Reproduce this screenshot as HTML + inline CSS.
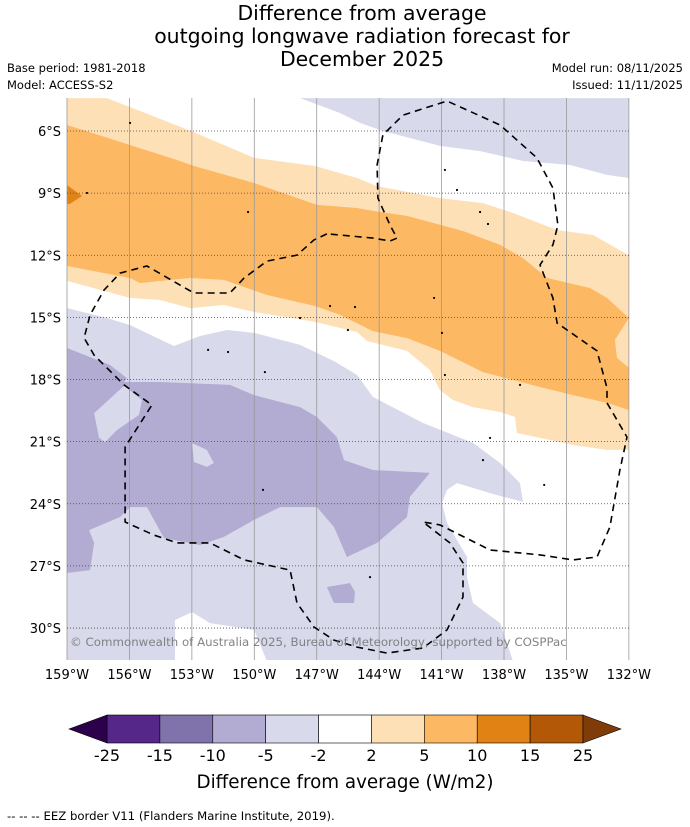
<!DOCTYPE html>
<html><head><meta charset="utf-8"><style>
body{margin:0;background:#fff;width:690px;height:827px;overflow:hidden;font-family:"DejaVu Sans",sans-serif}
svg{position:absolute;left:0;top:0}
</style></head><body>
<svg id="s" width="690" height="827" xmlns="http://www.w3.org/2000/svg">
<defs><clipPath id="mapclip"><rect x="67" y="98" width="562" height="562"/></clipPath></defs>
<g font-family="DejaVu Sans, sans-serif" fill="#000">
<text x="362" y="20" font-size="20.4" text-anchor="middle">Difference from average</text>
<text x="362" y="43" font-size="20.4" text-anchor="middle">outgoing longwave radiation forecast for</text>
<text x="362" y="66" font-size="20.4" text-anchor="middle">December 2025</text>
<text x="7" y="72" font-size="11.5">Base period: 1981-2018</text>
<text x="7" y="89" font-size="11.5">Model: ACCESS-S2</text>
<text x="683" y="72" font-size="11.5" text-anchor="end">Model run: 08/11/2025</text>
<text x="683" y="89" font-size="11.5" text-anchor="end">Issued: 11/11/2025</text>
</g>
<g id="map" clip-path="url(#mapclip)"></g>
<g id="grid"></g>
<g id="over" clip-path="url(#mapclip)"></g>
<text x="70" y="646" font-size="11.8" fill="#777" fill-opacity="0.9" font-family="DejaVu Sans, sans-serif">© Commonwealth of Australia 2025, Bureau of Meteorology, supported by COSPPac</text>
<g id="axes" font-family="DejaVu Sans, sans-serif" font-size="13"></g>
<g id="cbar" font-family="DejaVu Sans, sans-serif"></g>
<text x="345" y="788" font-size="18.3" text-anchor="middle" font-family="DejaVu Sans, sans-serif">Difference from average (W/m2)</text>
<text x="7" y="820" font-size="11.7" font-family="DejaVu Sans, sans-serif">--  --  -- EEZ border V11 (Flanders Marine Institute, 2019).</text>
</svg>
<script>
// Axis data
const latTicks=[6,9,12,15,18,21,24,27,30];
const lonTicks=[159,156,153,150,147,144,141,138,135,132];
// Colorbar data
const cbLevels=[-25,-15,-10,-5,-2,2,5,10,15,25];
const cbColors=["#542788","#8073ac","#b2abd2","#d8daeb","#ffffff","#fee0b6","#fdb863","#e08214","#b35806"];
// Contour polygons [lonW, latS]
const lightOrange=[[159,4.41],[157.08,4.41],[153.04,6.0],[150.01,7.3],[147.08,7.69],[145.06,8.27],[144.1,8.66],[141.08,9.24],[139.01,9.48],[137.57,9.96],[135.45,10.78],[133.72,11.02],[132,12.0],[132,21.4],[133.05,21.4],[134.68,21.16],[136.27,20.82],[137.38,20.58],[137.47,19.81],[138.19,19.57],[139.49,19.33],[140.45,18.99],[141.08,18.51],[141.56,17.54],[142.66,16.62],[144.58,16.14],[145.06,15.71],[147.08,15.22],[150.01,14.74],[151.46,14.4],[153.09,14.55],[154.53,14.16],[155.97,14.06],[159,13.24]];
const orange=[[159,5.71],[155.97,6.68],[153.71,7.4],[152.9,7.69],[150.01,8.51],[146.99,9.57],[145.06,9.72],[144.3,9.86],[142.66,10.1],[139.97,10.83],[138.19,11.5],[137.09,12.13],[135.93,13.1],[133.87,13.58],[133.05,14.06],[132,15.03],[132.67,16.09],[132.57,16.96],[132,17.44],[132,19.47],[133.05,19.13],[134.68,18.75],[136.27,18.36],[139.01,17.64],[141.08,16.62],[142.66,16.0],[144.3,15.66],[145.88,14.88],[147.08,14.45],[149.39,13.92],[151.46,13.19],[153.09,13.1],[155.49,13.34],[155.97,13.1],[159,12.52]];
const darkOrange=[[159,8.61],[158.28,9.14],[158.86,9.52],[159,9.52]];
const lpTop=[[147.8,4.41],[145.88,5.13],[144.92,5.61],[143.82,6.0],[141.08,6.72],[139.15,6.97],[137.09,7.45],[134.83,7.64],[133.05,8.12],[132,8.27],[132,4.41]];
const lpBig=[[159,14.55],[157.08,15.03],[155.97,15.37],[153.86,16.38],[152.61,15.9],[151.31,15.61],[150.01,15.75],[147.8,16.33],[146.17,17.11],[145.06,17.78],[144.3,18.84],[141.89,20.1],[139.49,21.06],[138.19,22.03],[137.23,23.0],[137.09,23.91],[138.34,23.58],[140.26,23.0],[140.74,23.33],[140.98,23.96],[140.74,24.93],[139.78,26.57],[139.78,27.54],[139.49,28.79],[138.19,29.76],[137.57,31.6],[149.39,31.6],[150.01,30.09],[152.13,29.76],[152.99,29.23],[153.81,29.61],[153.81,31.6],[159,31.6]];
const midPurple=[[159,16.48],[156.93,17.3],[156.12,17.93],[156.26,18.12],[154.53,18.12],[153.38,18.17],[151.17,18.26],[150.01,18.75],[147.8,19.33],[146.99,19.81],[146.03,20.78],[145.69,21.89],[144.3,22.37],[141.56,22.51],[142.52,23.67],[142.66,24.64],[144.1,25.89],[145.55,26.57],[146.17,25.12],[146.99,24.16],[148.76,24.16],[150.01,24.78],[151.46,25.6],[152.61,25.99],[154.34,25.65],[154.82,24.78],[155.16,24.16],[155.97,24.16],[156.45,24.64],[157.94,25.27],[157.7,25.89],[157.89,27.2],[159,27.34]];
const lpHole1=[[157.46,20.82],[157.7,19.62],[156.26,18.31],[155.4,18.99],[155.54,19.71],[156.6,20.44],[157.17,21.02]];
const lpHole2=[[152.99,21.07],[152.28,21.4],[151.94,22.03],[152.28,22.22],[152.9,21.98]];
const mpBlob=[[146.51,28.02],[145.4,27.83],[145.16,28.26],[145.21,28.79],[146.17,28.79]];
const eezBorder=[[146.51,10.97],[147.13,11.26],[147.95,11.99],[149.39,12.28],[150.49,13.1],[151.17,13.82],[152.9,13.82],[155.16,12.52],[156.45,12.86],[157.22,13.68],[157.89,14.88],[158.18,15.99],[157.7,16.82],[156.26,18.26],[154.92,19.23],[156.21,21.26],[156.21,24.88],[154.82,25.51],[153.71,25.89],[152.13,25.89],[150.49,26.71],[148.28,27.2],[147.95,28.79],[147.13,29.95],[146.17,30.58],[145.06,30.92],[143.62,31.21],[141.89,30.96],[140.74,30.09],[139.97,28.5],[139.97,26.86],[140.6,25.89],[141.89,24.88],[141.08,25.02],[138.67,26.23],[136.27,26.47],[134.68,26.71],[133.53,26.57],[132.91,25.12],[132.43,22.37],[132.09,20.78],[133.05,19.13],[133.05,18.41],[133.53,16.62],[135.45,15.27],[135.65,14.06],[136.27,12.47],[135.65,11.5],[135.41,10.54],[135.65,8.75],[136.42,7.3],[138.19,5.71],[140.74,4.55],[142.85,5.23],[143.82,6.19],[144.1,7.64],[144.06,9.24],[143.48,10.54],[143.14,11.17],[143.48,11.31],[144.3,11.17],[145.88,11.02],[146.51,10.97]];
const islands=[[155.97,5.61],[158.04,8.99],[150.3,9.91],[140.84,7.88],[140.26,8.85],[139.15,9.91],[138.77,10.49],[141.36,14.06],[140.98,15.75],[146.36,14.45],[145.16,14.5],[147.8,15.03],[145.5,15.61],[152.22,16.57],[151.26,16.67],[149.49,17.64],[140.84,17.78],[138.67,20.82],[139.01,21.89],[136.07,23.09],[149.58,23.33],[144.44,27.54],[137.23,18.26]];

const NS='http://www.w3.org/2000/svg';
const X=lon=>67+(159-lon)*20.81;
const Y=lat=>131+(lat-6)*20.71;
function mk(tag,parent){const e=document.createElementNS(NS,tag);parent.appendChild(e);return e;}
const map=document.getElementById('map'),grid=document.getElementById('grid'),over=document.getElementById('over'),axes=document.getElementById('axes'),cbar=document.getElementById('cbar');
const pts=a=>a.map(p=>X(p[0]).toFixed(1)+','+Y(p[1]).toFixed(1)).join(' ');
function poly(arr,fill,name){const p=mk('polygon',map);p.setAttribute('points',pts(arr));p.setAttribute('fill',fill);

}
const bg=mk('rect',map);bg.setAttribute('x',67);bg.setAttribute('y',98);bg.setAttribute('width',562);bg.setAttribute('height',562);bg.setAttribute('fill','#fff');


poly(lpTop,'#d8daeb','anomaly-minus2-to-minus5-north');
poly(lpBig,'#d8daeb','anomaly-minus2-to-minus5-south');
poly(midPurple,'#b2abd2','anomaly-minus5-to-minus10');
poly(lpHole1,'#d8daeb','anomaly-minus2-to-minus5-pocket-1');
poly(lpHole2,'#d8daeb','anomaly-minus2-to-minus5-pocket-2');
poly(mpBlob,'#b2abd2','anomaly-minus5-to-minus10-blob');
poly(lightOrange,'#fee0b6','anomaly-2-to-5');
poly(orange,'#fdb863','anomaly-5-to-10');
poly(darkOrange,'#e08214','anomaly-10-to-15');
lonTicks.forEach(l=>{const ln=mk('line',grid);ln.setAttribute('x1',X(l));ln.setAttribute('x2',X(l));ln.setAttribute('y1',98);ln.setAttribute('y2',660);ln.setAttribute('stroke','#999');ln.setAttribute('stroke-width','0.8');


const t=mk('text',axes);t.setAttribute('x',X(l));t.setAttribute('y',679);t.setAttribute('text-anchor','middle');t.textContent=l+'°W';

});
latTicks.forEach(l=>{const ln=mk('line',grid);ln.setAttribute('x1',67);ln.setAttribute('x2',629);ln.setAttribute('y1',Y(l));ln.setAttribute('y2',Y(l));ln.setAttribute('stroke','#444');ln.setAttribute('stroke-width','0.8');ln.setAttribute('stroke-dasharray','1,2');


const t=mk('text',axes);t.setAttribute('x',61);t.setAttribute('y',Y(l)+5);t.setAttribute('text-anchor','end');t.textContent=l+'°S';

});
const eez=mk('polyline',over);eez.setAttribute('points',pts(eezBorder));eez.setAttribute('fill','none');eez.setAttribute('stroke','#000');eez.setAttribute('stroke-width','1.6');eez.setAttribute('stroke-dasharray','7,5');


islands.forEach(p=>{const c=mk('circle',over);c.setAttribute('cx',X(p[0]));c.setAttribute('cy',Y(p[1]));c.setAttribute('r','1.1');c.setAttribute('fill','#000');

});
const cx0=107,cx1=583,cy=715,ch=28,n=cbColors.length,w=(cx1-cx0)/n;
cbColors.forEach((c,i)=>{const r=mk('rect',cbar);r.setAttribute('x',cx0+i*w);r.setAttribute('y',cy);r.setAttribute('width',w);r.setAttribute('height',ch);r.setAttribute('fill',c);r.setAttribute('stroke','#000');r.setAttribute('stroke-width','0.6');

});
const tl=mk('polygon',cbar);tl.setAttribute('points',`69,${cy+ch/2} ${cx0},${cy} ${cx0},${cy+ch}`);tl.setAttribute('fill','#2d004b');tl.setAttribute('stroke','#000');tl.setAttribute('stroke-width','0.6');


const tr=mk('polygon',cbar);tr.setAttribute('points',`621,${cy+ch/2} ${cx1},${cy} ${cx1},${cy+ch}`);tr.setAttribute('fill','#7f3b08');tr.setAttribute('stroke','#000');tr.setAttribute('stroke-width','0.6');


cbLevels.forEach((v,i)=>{const t=mk('text',cbar);t.setAttribute('x',cx0+i*w);t.setAttribute('y',761);t.setAttribute('font-size','16');t.setAttribute('text-anchor','middle');t.textContent=v;

});
</script>
</body></html>
